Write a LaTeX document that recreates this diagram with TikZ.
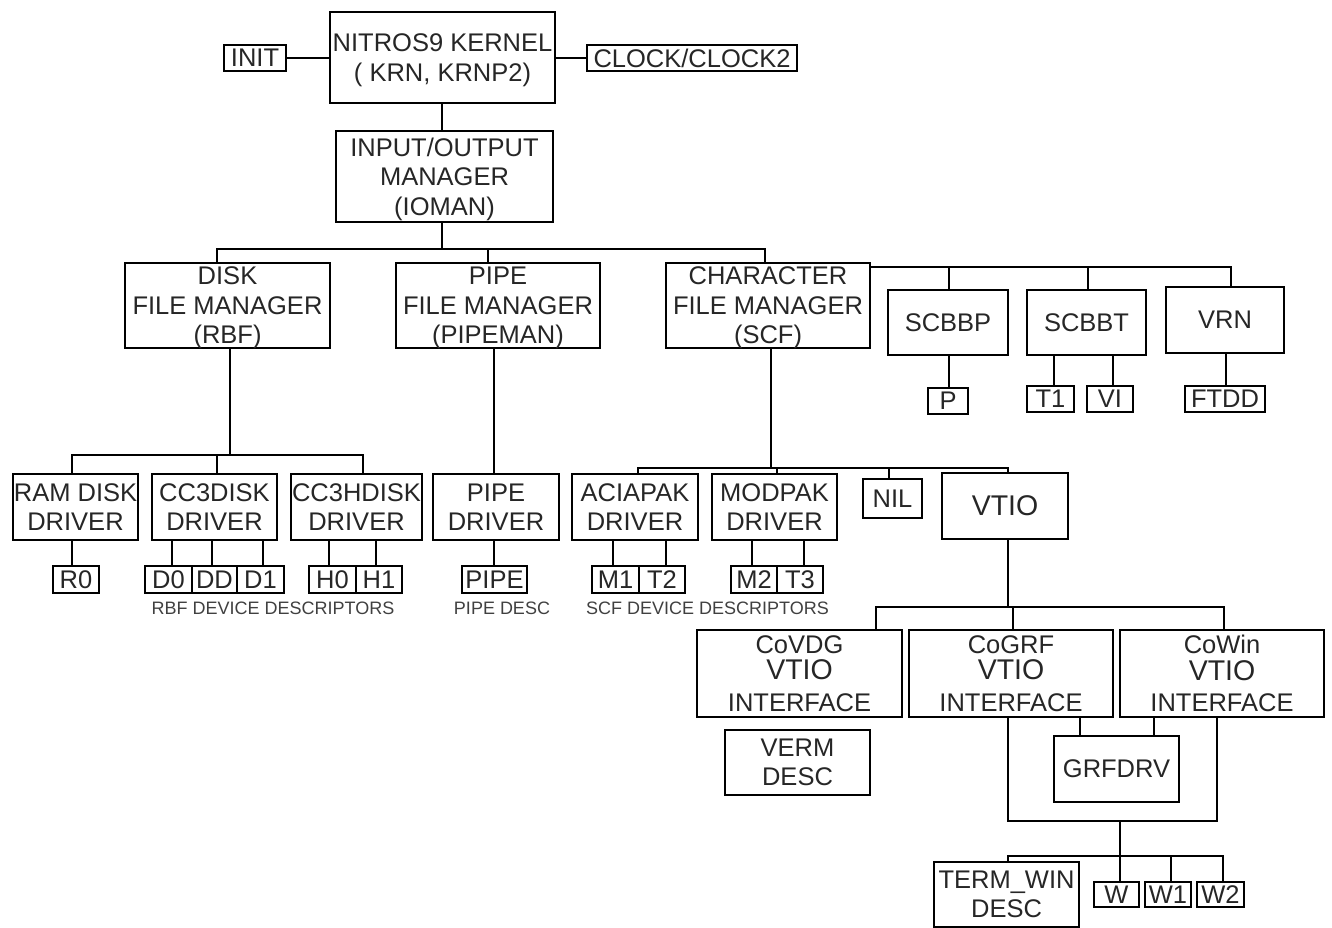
\documentclass[tikz,border=0pt]{standalone}
\usepackage{fontspec}
\setmainfont{Liberation Sans}
\begin{document}
\begin{tikzpicture}[x=1pt,y=-1pt,
  box/.style={draw, line width=2.2pt, inner sep=0pt, align=center, font=\fontsize{25.5}{29.5}\selectfont, text=black!85},
  flat/.style={text depth=0pt},
  wire/.style={line width=2.2pt},
  lbl/.style={font=\fontsize{18}{20}\selectfont, inner sep=0pt, text=black!75}]
\useasboundingbox (0,0) rectangle (1332,928);
\newcommand\vt{\fontsize{28.5}{28.5}\selectfont VTIO}
% top
\node[box, minimum width=62, minimum height=26] (init) at (255,58) {INIT};
\node[box, flat, minimum width=225, minimum height=91] (kernel) at (442.5,57.5) {NITROS9 KERNEL\\( KRN, KRNP2)};
\node[box, minimum width=210, minimum height=26] (clock) at (692,58) {CLOCK/CLOCK2};
\node[box, flat, minimum width=217, minimum height=91] (ioman) at (444.5,176.5) {INPUT/OUTPUT\\MANAGER\\(IOMAN)};
% managers
\node[box, flat, minimum width=205, minimum height=85] (disk) at (227.5,305.5) {DISK\\FILE MANAGER\\(RBF)};
\node[box, flat, minimum width=204, minimum height=85] (pipefm) at (498,305.5) {PIPE\\FILE MANAGER\\(PIPEMAN)};
\node[box, flat, minimum width=204, minimum height=85] (charfm) at (768,305.5) {CHARACTER\\FILE MANAGER\\(SCF)};
\node[box, minimum width=120, minimum height=65] (scbbp) at (948,322.5) {SCBBP};
\node[box, minimum width=119, minimum height=65] (scbbt) at (1086.5,322.5) {SCBBT};
\node[box, minimum width=118, minimum height=66] (vrn) at (1225,320) {VRN};
\node[box, minimum width=40, minimum height=26] (p) at (948,401) {P};
\node[box, minimum width=47, minimum height=26] (t1) at (1050.5,399) {T1};
\node[box, minimum width=46, minimum height=26] (vi) at (1110,399) {VI};
\node[box, minimum width=80, minimum height=26] (ftdd) at (1225,399) {FTDD};
% drivers
\node[box, minimum width=125, minimum height=66] (ramdisk) at (75.5,507) {RAM DISK\\DRIVER};
\node[box, minimum width=125, minimum height=66] (cc3disk) at (214.5,507) {CC3DISK\\DRIVER};
\node[box, minimum width=131, minimum height=66] (cc3hdisk) at (356.5,507) {CC3HDISK\\DRIVER};
\node[box, minimum width=126, minimum height=66] (pipedrv) at (496,507) {PIPE\\DRIVER};
\node[box, minimum width=126, minimum height=66] (aciapak) at (635,507) {ACIAPAK\\DRIVER};
\node[box, minimum width=125, minimum height=66] (modpak) at (774.5,507) {MODPAK\\DRIVER};
\node[box, minimum width=59, minimum height=39] (nil) at (892.5,498.5) {NIL};
\node[box, minimum width=126, minimum height=66] (vtio) at (1005,506) {\vt};
% descriptors
\node[box, minimum width=46, minimum height=27] (r0) at (76,579.5) {R0};
\node[box, minimum width=47, minimum height=27] (d0) at (168.5,579.5) {D0};
\node[box, minimum width=45, minimum height=27] (dd) at (214.5,579.5) {DD};
\node[box, minimum width=47, minimum height=27] (d1) at (260.5,579.5) {D1};
\node[box, minimum width=47, minimum height=27] (h0) at (332.5,579.5) {H0};
\node[box, minimum width=46, minimum height=27] (h1) at (379,579.5) {H1};
\node[box, minimum width=65, minimum height=27] (pipedesc) at (494.5,579.5) {PIPE};
\node[box, minimum width=47, minimum height=27] (m1) at (615.5,579.5) {M1};
\node[box, minimum width=46, minimum height=27] (t2) at (662,579.5) {T2};
\node[box, minimum width=46, minimum height=27] (m2) at (754,579.5) {M2};
\node[box, minimum width=46, minimum height=27] (t3) at (800,579.5) {T3};
\node[lbl] (rbflbl) at (273,608) {RBF DEVICE DESCRIPTORS};
\node[lbl] (pipelbl) at (502,608) {PIPE DESC};
\node[lbl] (scflbl) at (707.5,608) {SCF DEVICE DESCRIPTORS};
% vtio subsystems
\node[box, minimum width=205, minimum height=87] (covdg) at (799.5,673.5) {CoVDG\\[-3pt]{\vt}\\[2pt]INTERFACE};
\node[box, minimum width=204, minimum height=87] (cogrf) at (1011,673.5) {CoGRF\\[-3pt]{\vt}\\[2pt]INTERFACE};
\node[box, minimum width=204, minimum height=87] (cowin) at (1222,673.5) {CoWin\\[-3pt]{\vt}\\[2pt]INTERFACE};
\node[box, minimum width=145, minimum height=65] (verm) at (797.5,762.5) {VERM\\DESC};
\node[box, minimum width=125, minimum height=66] (grfdrv) at (1116.5,769) {GRFDRV};
\node[box, minimum width=145, minimum height=65] (termwin) at (1006.5,894.5) {TERM\_WIN\\DESC};
\node[box, minimum width=45, minimum height=25] (w) at (1116.5,894.5) {W};
\node[box, minimum width=46, minimum height=25] (w1) at (1168,894.5) {W1};
\node[box, minimum width=47, minimum height=25] (w2) at (1220.5,894.5) {W2};
% connectors top
\draw[wire] (init.east) -- (kernel.west |- init.east);
\draw[wire] (kernel.east |- clock.west) -- (clock.west);
\draw[wire] (442,0 |- kernel.south) -- (442,0 |- ioman.north);
\coordinate (busL) at (217,249);
\coordinate (busR) at (765,249);
\draw[wire] (442,0 |- ioman.south) -- (442,249);
\draw[wire] (busL |- disk.north) -- (busL) -- (busR) -- (busR |- charfm.north);
\draw[wire] (488,249) -- (488,0 |- pipefm.north);
\coordinate (bus2R) at (1231,267);
\draw[wire] (charfm.east |- bus2R) -- (bus2R) -- (bus2R |- vrn.north);
\draw[wire] (949,267) -- (949,0 |- scbbp.north);
\draw[wire] (1088,267) -- (1088,0 |- scbbt.north);
\draw[wire] (949,0 |- scbbp.south) -- (949,0 |- p.north);
\draw[wire] (1054,0 |- scbbt.south) -- (1054,0 |- t1.north);
\draw[wire] (1113,0 |- scbbt.south) -- (1113,0 |- vi.north);
\draw[wire] (1226,0 |- vrn.south) -- (1226,0 |- ftdd.north);
% RBF
\coordinate (rbus) at (230,455);
\draw[wire] (rbus |- disk.south) -- (rbus);
\draw[wire] (72,0 |- ramdisk.north) -- (72,455) -- (363,455) -- (363,0 |- cc3hdisk.north);
\draw[wire] (217,455) -- (217,0 |- cc3disk.north);
\draw[wire] (72,0 |- ramdisk.south) -- (72,0 |- r0.north);
\draw[wire] (172,0 |- cc3disk.south) -- (172,0 |- d0.north);
\draw[wire] (212,0 |- cc3disk.south) -- (212,0 |- dd.north);
\draw[wire] (263,0 |- cc3disk.south) -- (263,0 |- d1.north);
\draw[wire] (329,0 |- cc3hdisk.south) -- (329,0 |- h0.north);
\draw[wire] (376,0 |- cc3hdisk.south) -- (376,0 |- h1.north);
% pipe
\draw[wire] (494,0 |- pipefm.south) -- (494,0 |- pipedrv.north);
\draw[wire] (494,0 |- pipedrv.south) -- (494,0 |- pipedesc.north);
% SCF
\coordinate (sbus) at (771,468);
\draw[wire] (sbus |- charfm.south) -- (sbus);
\draw[wire] (638,0 |- aciapak.north) -- (638,468) -- (1008,468) -- (1008,0 |- vtio.north);
\draw[wire] (777,468) -- (777,0 |- modpak.north);
\draw[wire] (889,468) -- (889,0 |- nil.north);
\draw[wire] (613,0 |- aciapak.south) -- (613,0 |- m1.north);
\draw[wire] (666,0 |- aciapak.south) -- (666,0 |- t2.north);
\draw[wire] (752,0 |- modpak.south) -- (752,0 |- m2.north);
\draw[wire] (804,0 |- modpak.south) -- (804,0 |- t3.north);
% VTIO
\coordinate (vbus) at (1008,607);
\draw[wire] (vbus |- vtio.south) -- (vbus);
\draw[wire] (876,0 |- covdg.north) -- (876,607) -- (1224,607) -- (1224,0 |- cowin.north);
\draw[wire] (1013,607) -- (1013,0 |- cogrf.north);
\draw[wire] (1080,0 |- cogrf.south) -- (1080,0 |- grfdrv.north);
\draw[wire] (1154,0 |- cowin.south) -- (1154,0 |- grfdrv.north);
\draw[wire] (1008,0 |- cogrf.south) -- (1008,821) -- (1217,821) -- (1217,0 |- cowin.south);
\coordinate (wbus) at (1120,821);
\draw[wire] (wbus) -- (wbus |- w.north);
\draw[wire] (1008,0 |- termwin.north) -- (1008,856) -- (1223,856) -- (1223,0 |- w2.north);
\draw[wire] (1171,856) -- (1171,0 |- w1.north);
\end{tikzpicture}
\end{document}
